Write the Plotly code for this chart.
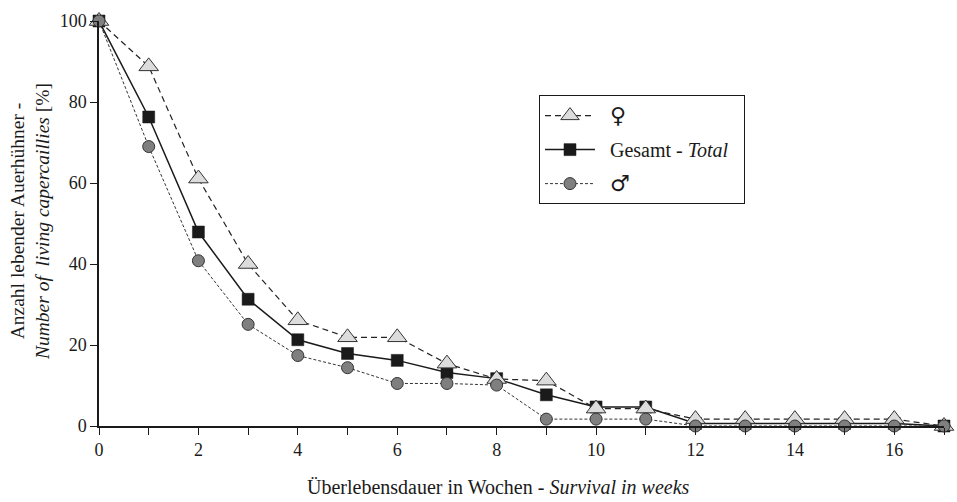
import plotly.graph_objects as go

weeks = list(range(18))
female = [100, 88.8, 61.1, 40.0, 26.1, 21.9, 21.9, 15.4, 11.6, 11.2, 4.3, 4.3, 1.7, 1.7, 1.7, 1.7, 1.7, 0]
total = [100, 76.3, 47.9, 31.3, 21.3, 17.9, 16.2, 13.2, 11.7, 7.7, 4.7, 4.7, 0.6, 0.6, 0.6, 0.6, 0.6, 0]
male = [100, 69.0, 40.8, 25.1, 17.4, 14.4, 10.5, 10.5, 10.1, 1.7, 1.7, 1.7, 0, 0, 0, 0, 0, 0]

x_ticks = list(range(18))
x_ticktext = [str(v) if v % 2 == 0 and v < 17 else "" for v in x_ticks]
y_ticks = [0, 20, 40, 60, 80, 100]

FONT = "Liberation Serif"
SYM = '<span style="font-family:DejaVu Sans; font-size:22px; color:#1a1a1a">{}</span>'

fig = go.Figure()
fig.add_trace(go.Scatter(
    x=weeks, y=total, name="&nbsp;&nbsp;Gesamt - <i>Total</i>&nbsp;&nbsp;", mode="lines+markers",
    line=dict(color="#1a1a1a", width=1.5),
    marker=dict(symbol="square", size=12, color="#1a1a1a", line=dict(color="#1a1a1a", width=0.5)),
    legendrank=2, legendgroup="t", cliponaxis=False))
fig.add_trace(go.Scatter(
    x=weeks, y=female, name="&nbsp;&nbsp;" + SYM.format("♀"), mode="lines+markers",
    line=dict(color="#222222", width=1.2, dash="6px,4px"),
    marker=dict(symbol="triangle-up", size=17, color="#dcdcdc", line=dict(color="#333333", width=1)),
    legendrank=1, legendgroup="f", cliponaxis=False))
fig.add_trace(go.Scatter(
    x=weeks, y=male, name="&nbsp;&nbsp;" + SYM.format("♂"), mode="lines+markers",
    line=dict(color="#333333", width=1, dash="3px,2px"),
    marker=dict(symbol="circle", size=12, color="#7f7f7f", line=dict(color="#333333", width=1)),
    legendrank=3, legendgroup="m", cliponaxis=False))

fig.update_layout(
    width=957, height=502,
    margin=dict(l=99, r=13, t=21, b=76),
    paper_bgcolor="white", plot_bgcolor="white",
    font=dict(family=FONT, size=18, color="#1a1a1a"),
    showlegend=True,
    legend=dict(x=0.5207, y=0.817, xanchor="left", yanchor="top",
                bordercolor="#1a1a1a", borderwidth=1, bgcolor="white",
                font=dict(family=FONT, size=20, color="#1a1a1a"), tracegroupgap=5,
                traceorder="grouped", itemwidth=50),
    xaxis=dict(range=[0, 17], tickmode="array", tickvals=x_ticks, ticktext=x_ticktext,
               showline=True, linecolor="#1a1a1a", linewidth=1.5, ticks="outside",
               ticklen=7, tickcolor="#1a1a1a", showgrid=False, zeroline=False,
               tickfont=dict(family=FONT, size=18)),
    yaxis=dict(range=[0, 100], tickmode="array", tickvals=y_ticks,
               showline=True, linecolor="#1a1a1a", linewidth=1.5, ticks="outside",
               ticklen=7, tickcolor="#1a1a1a", showgrid=False, zeroline=False,
               tickfont=dict(family=FONT, size=18)),
    annotations=[
        dict(text="Überlebensdauer in Wochen - <i>Survival in weeks</i>", xref="paper", yref="paper",
             x=(498 - 99) / 845, y=-(487 - 426) / 405, showarrow=False, xanchor="center", yanchor="middle",
             font=dict(family=FONT, size=20)),
        dict(text="Anzahl lebender Auerhühner -<br><i>Number of  living capercaillies</i> [%]", xref="paper", yref="paper",
             x=-(99 - 30) / 845, y=(426 - 222) / 405, showarrow=False, xanchor="center", yanchor="middle",
             textangle=-90, font=dict(family=FONT, size=19.5)),
    ],
)

fig.write_html("out.html")
